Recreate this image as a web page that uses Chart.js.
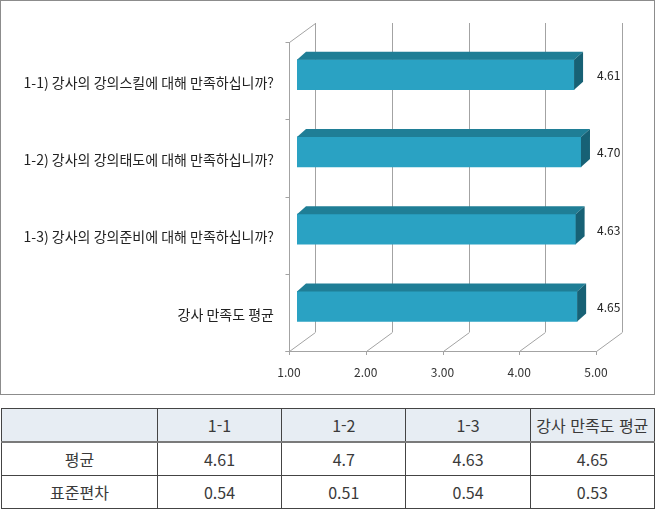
<!DOCTYPE html>
<html lang="ko">
  <head>
    <meta charset="UTF-8" />
    <title>강사 만족도</title>
    <script src="https://cdn.jsdelivr.net/npm/chart.js@4.4.1/dist/chart.umd.min.js"></script>
    <style>
      body {
        margin: 0;
        background: #fff;
        font-family: 'Noto Sans CJK KR', 'Noto Sans', sans-serif;
      }
      .chart-box {
        position: absolute;
        left: 0;
        top: 0;
        width: 653px;
        height: 393px;
        border: 1px solid #8c8c8c;
      }
      .stats {
        position: absolute;
        left: 1px;
        top: 408px;
        border-collapse: collapse;
        table-layout: fixed;
        color: #3a3a3a;
        font-size: 16px;
      }
      .stats td {
        border: 1px solid #444;
        height: 32px;
        padding: 0;
        text-align: center;
      }
      .stats tr.head td {
        background: #e7edf3;
        border-bottom: 2px solid #7a7a7a;
      }
    </style>
  </head>
  <body>
    <div class="chart-box">
      <canvas id="satisfactionChart" width="653" height="393"></canvas>
    </div>
    <table class="stats" id="statsTable"></table>

    <script>
      // 문항
      const categories = [
        '1-1) 강사의 강의스킬에 대해 만족하십니까?',
        '1-2) 강사의 강의태도에 대해 만족하십니까?',
        '1-3) 강사의 강의준비에 대해 만족하십니까?',
        '강사 만족도 평균'
      ]
      // 평균 점수
      const means = [4.61, 4.7, 4.63, 4.65]
      // 표준편차
      const stdDevs = [0.54, 0.51, 0.54, 0.53]
      // 표 머리글
      const tableHeads = ['1-1', '1-2', '1-3', '강사 만족도 평균']
      const rowLabels = ['평균', '표준편차']

      // 3D 깊이 (막대 평면 기준)
      const FRONT = { dx: -8, dy: 6 }
      const BACK = { dx: 18, dy: -13 }
      const BAR_DEPTH = { dx: 9, dy: -8 }
      const gridColor = '#a3a3a3'
      const fontFamily = '"Noto Sans CJK KR", "Noto Sans", sans-serif'

      const threeD = {
        id: 'threeD',
        beforeDatasetsDraw(chart) {
          const { ctx, chartArea: a, scales } = chart
          const xs = scales.x
          const ys = scales.y
          ctx.save()
          ctx.strokeStyle = gridColor
          ctx.lineWidth = 1
          const fb = a.bottom + FRONT.dy
          const ft = a.top + FRONT.dy
          const bb = a.bottom + BACK.dy
          const bt = a.top + BACK.dy
          ctx.beginPath()
          xs.ticks.forEach(t => {
            const px = Math.round(xs.getPixelForValue(t.value))
            // 뒷벽 세로선
            ctx.moveTo(px + BACK.dx + 0.5, bt)
            ctx.lineTo(px + BACK.dx + 0.5, bb)
            // 바닥 사선
            ctx.moveTo(px + FRONT.dx + 0.5, fb + 0.5)
            ctx.lineTo(px + BACK.dx + 0.5, bb + 0.5)
            // 아래 눈금
            ctx.moveTo(px + FRONT.dx + 0.5, fb)
            ctx.lineTo(px + FRONT.dx + 0.5, fb + 4)
          })
          const fl = Math.round(a.left) + FRONT.dx + 0.5
          const fr = Math.round(a.right) + FRONT.dx + 0.5
          // 앞 바닥선
          ctx.moveTo(fl - 4, fb + 0.5)
          ctx.lineTo(fr, fb + 0.5)
          // 왼쪽 축
          ctx.moveTo(fl, ft)
          ctx.lineTo(fl, fb)
          ctx.moveTo(fl, ft + 0.5)
          ctx.lineTo(Math.round(a.left) + BACK.dx + 0.5, bt + 0.5)
          // 왼쪽 눈금 (범주 경계)
          const n = ys.ticks.length
          for (let i = 0; i <= n; i++) {
            const py = Math.round(a.top + ((a.bottom - a.top) * i) / n + FRONT.dy) + 0.5
            ctx.moveTo(fl - 4, py)
            ctx.lineTo(fl, py)
          }
          ctx.stroke()
          ctx.restore()
        },
        afterDatasetsDraw(chart) {
          const { ctx, chartArea: a } = chart
          const meta = chart.getDatasetMeta(0)
          ctx.save()
          meta.data.forEach((bar, i) => {
            const top = bar.y - bar.height / 2
            const bottom = bar.y + bar.height / 2
            const left = Math.max(bar.base, a.left)
            const { dx, dy } = BAR_DEPTH
            // 윗면
            ctx.fillStyle = '#1f7e96'
            ctx.beginPath()
            ctx.moveTo(left, top)
            ctx.lineTo(left + dx, top + dy)
            ctx.lineTo(bar.x + dx, top + dy)
            ctx.lineTo(bar.x, top)
            ctx.closePath()
            ctx.fill()
            // 옆면
            ctx.fillStyle = '#176175'
            ctx.beginPath()
            ctx.moveTo(bar.x, top)
            ctx.lineTo(bar.x + dx, top + dy)
            ctx.lineTo(bar.x + dx, bottom + dy)
            ctx.lineTo(bar.x, bottom)
            ctx.closePath()
            ctx.fill()
            // 값
            ctx.fillStyle = '#222'
            ctx.font = '12px ' + fontFamily
            ctx.textAlign = 'left'
            ctx.textBaseline = 'middle'
            ctx.fillText(means[i].toFixed(2), a.right + FRONT.dx + 1, bar.y + 1)
          })
          ctx.restore()
        }
      }

      new Chart(document.getElementById('satisfactionChart'), {
        type: 'bar',
        data: {
          labels: categories,
          datasets: [
            {
              data: means,
              base: 1,
              backgroundColor: '#2aa2c3',
              borderWidth: 0,
              barThickness: 30
            }
          ]
        },
        options: {
          indexAxis: 'y',
          responsive: false,
          animation: false,
          layout: { padding: { left: 0, right: 50, top: 35, bottom: 1 } },
          plugins: { legend: { display: false }, tooltip: { enabled: false } },
          scales: {
            x: {
              min: 1,
              max: 5,
              grid: { display: false, drawTicks: false },
              border: { display: false },
              afterFit: s => {
                s.height = 48
              },
              ticks: {
                stepSize: 1,
                padding: 20,
                labelOffset: FRONT.dx,
                color: '#333',
                font: { size: 12, family: fontFamily },
                callback: v => Number(v).toFixed(2)
              }
            },
            y: {
              grid: { display: false, drawTicks: false },
              border: { display: false },
              afterFit: s => {
                s.width = 296
              },
              ticks: {
                padding: 23,
                labelOffset: 8,
                color: '#222',
                font: { size: 14, family: fontFamily }
              }
            }
          }
        },
        plugins: [threeD]
      })

      // 통계 표
      const colWidths = [156, 124, 124, 124, 124]
      const table = document.getElementById('statsTable')
      const rows = [
        { cls: 'head', cells: [''].concat(tableHeads) },
        { cls: '', cells: [rowLabels[0]].concat(means.map(v => String(v))) },
        { cls: '', cells: [rowLabels[1]].concat(stdDevs.map(v => String(v))) }
      ]
      table.innerHTML = rows
        .map(
          r =>
            `<tr class="${r.cls}">` +
            r.cells
              .map((c, j) => `<td style="width:${colWidths[j]}px">${c}</td>`)
              .join('') +
            '</tr>'
        )
        .join('')
    </script>
  </body>
</html>
